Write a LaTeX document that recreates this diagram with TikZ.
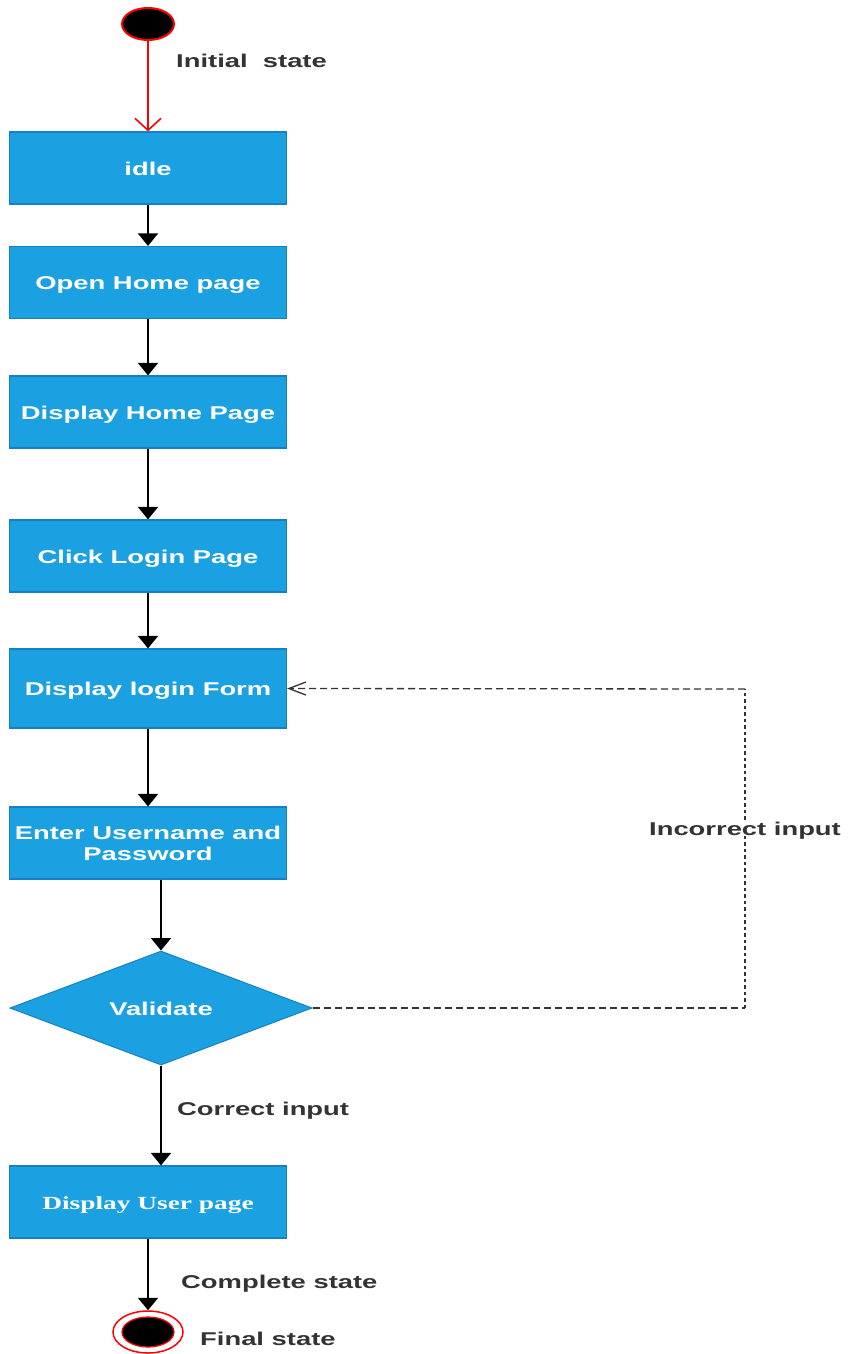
\documentclass[tikz,border=0pt]{standalone}
\usepackage{fontspec}
\usetikzlibrary{shapes.geometric,arrows.meta}
\setmainfont{Liberation Sans}[FakeStretch=1.48]
\newfontfamily\serifwide{Liberation Serif}[FakeStretch=1.48]
\definecolor{boxblue}{HTML}{1BA1E2}
\definecolor{boxedge}{HTML}{1680C4}
\definecolor{labelgray}{HTML}{333333}
\begin{document}
\begin{tikzpicture}[x=1pt,y=-1pt,
  every node/.style={font=\fontsize{18.5}{21}\selectfont\bfseries},
  actbox/.style={draw=boxedge, line width=1.2pt, fill=boxblue, text=white,
    minimum width=277pt, minimum height=72pt, inner sep=0pt, align=center},
  oneline/.style={text height=14.5pt, text depth=0pt},
  decision/.style={diamond, aspect=2.65, draw=boxedge, line width=1pt, fill=boxblue,
    text=white, minimum width=302pt, minimum height=114pt, inner sep=0pt,
    text height=14.5pt, text depth=0pt},
  lbl/.style={text=labelgray, inner sep=0pt, anchor=west, text height=14.5pt, text depth=0pt},
  flow/.style={line width=1.8pt, -{Triangle[length=12.5pt,width=20pt]}},
  startflow/.style={red, line width=1.6pt, -{Straight Barb[length=12pt,width=26pt]}},
  backflow/.style={labelgray, line width=1.3pt, dash pattern=on 7pt off 4pt},
  backflowv/.style={labelgray, line width=1.3pt, dash pattern=on 3.5pt off 3pt}
]
\useasboundingbox (0,0) rectangle (848,1354);

% initial state
\node[ellipse, draw=red, line width=2pt, fill=black, minimum width=52pt,
  minimum height=32pt, inner sep=0pt] (init) at (148,24) {};
\node[lbl] (initlbl) at (176,60) {Initial~~state};

% activity boxes
\node[actbox, oneline] (idle)  at (148,168)   {idle};
\node[actbox, oneline] (open)  at (148,282.5) {Open Home page};
\node[actbox, oneline] (disp)  at (148,412)   {Display Home Page};
\node[actbox, oneline] (click) at (148,556)   {Click Login Page};
\node[actbox, oneline, minimum height=79pt] (form) at (148,688.5) {Display login Form};
\node[actbox] (enter) at (148,843)   {Enter Username and\\Password};
\node[decision] (val) at (161,1008) {Validate};
\node[actbox, oneline, font=\fontsize{18.5}{21}\selectfont\serifwide\bfseries] (user) at (148,1202) {Display User page};

% final state
\node[ellipse, draw=red, line width=1.5pt, fill=white, minimum width=70pt,
  minimum height=42pt, inner sep=0pt] (final) at (148,1332) {};
\node[ellipse, draw=red, line width=1.2pt, fill=black, minimum width=52pt,
  minimum height=30pt, inner sep=0pt] (finaldot) at (final.center) {};

% labels
\node[lbl] (corrlbl) at (177,1108) {Correct input};
\node[lbl] (complbl) at (181,1281) {Complete state};
\node[lbl] (finlbl)  at (200,1338) {Final state};

% connectors
\draw[startflow] (init) -- (idle);
\draw[flow] (idle) -- (open);
\draw[flow] (open) -- (disp);
\draw[flow] (disp) -- (click);
\draw[flow] (click) -- (form);
\draw[flow] (form) -- (enter);
\draw[flow] (val.north |- enter.south) -- (val.north);
\draw[flow] (val.south) -- (val.south |- user.north);
\draw[flow] (user) -- (final);

% loop back on bad input
\coordinate (c1) at (745,1008);
\coordinate (c2) at (745,689);
\draw[backflow] (val.east) -- (c1);
\draw[backflowv] (c1) -- (c2);
\draw[backflow, -{Straight Barb[length=17pt,width=13pt]}] (c2) -- (form.east);
\node[text=labelgray, fill=white, inner sep=1pt, text height=14.5pt, text depth=0pt] (badlbl) at (745,828) {Incorrect input};
\end{tikzpicture}
\end{document}
